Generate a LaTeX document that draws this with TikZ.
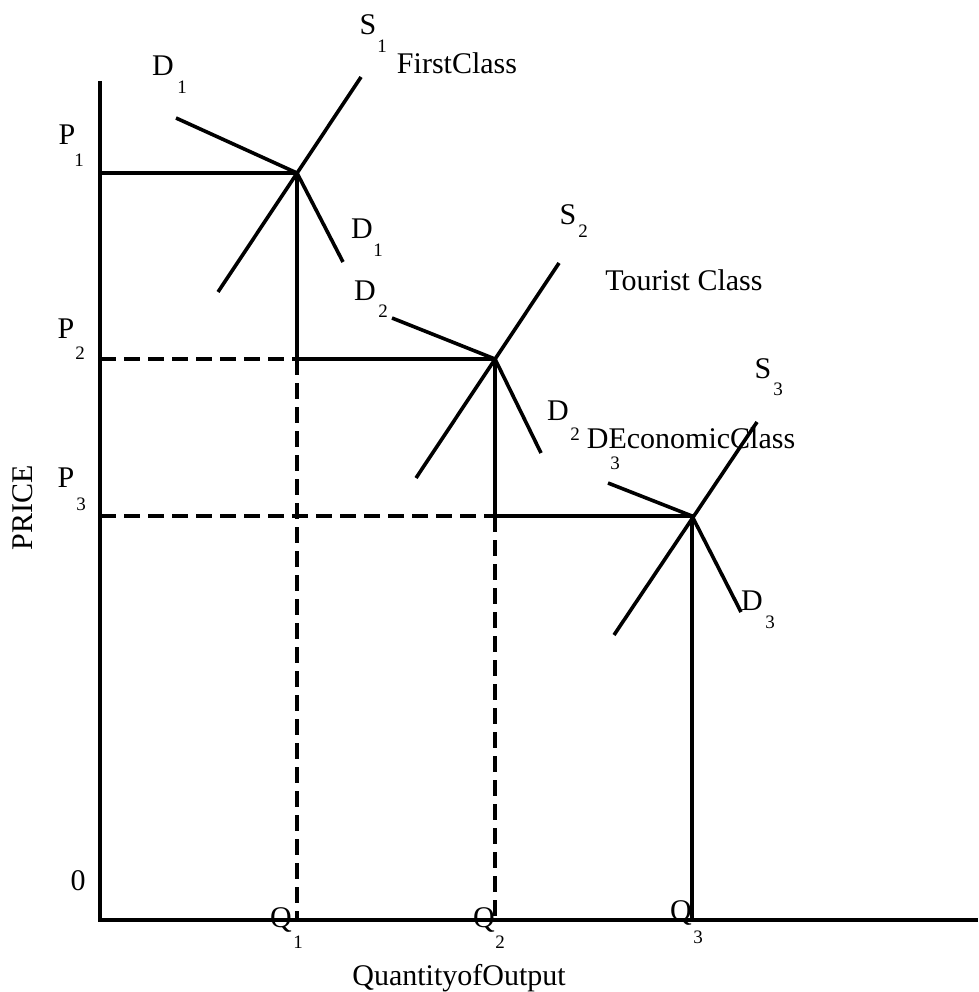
\documentclass[tikz,border=0pt]{standalone}
\usepackage{fontspec}
\setmainfont{Liberation Serif}
\begin{document}
\begin{tikzpicture}[x=1pt,y=-1pt,
  curve/.style={line width=3.6pt},
  axisline/.style={line width=4pt},
  guide/.style={line width=3.6pt, dash pattern=on 16pt off 8pt},
  lbl/.style={anchor=base, inner sep=0pt, font=\fontsize{30}{30}\selectfont},
  sub/.style={anchor=base, inner sep=0pt, font=\fontsize{19}{19}\selectfont}]
\useasboundingbox (0,0) rectangle (978,992);
% key points
\coordinate (O) at (100,920);
\coordinate (Ytop) at (100,81);
\coordinate (Xend) at (978,920);
\coordinate (E1) at (297,173);
\coordinate (E2) at (495,359);
\coordinate (E3) at (692,516);
\coordinate (P1a) at (100,173);
\coordinate (P2a) at (100,359);
\coordinate (P3a) at (100,516);
\coordinate (Q1a) at (297,920);
\coordinate (Q2a) at (495,920);
\coordinate (Q3a) at (692,920);
\coordinate (V1) at (297,359);
\coordinate (V2) at (495,516);
% curve ends
\coordinate (S1lo) at (218,292);
\coordinate (S1hi) at (361,77);
\coordinate (D1hi) at (176,118);
\coordinate (D1lo) at (343,262);
\coordinate (S2lo) at (416,478);
\coordinate (S2hi) at (559,263);
\coordinate (D2hi) at (392,318);
\coordinate (D2lo) at (541,453);
\coordinate (S3lo) at (614,635);
\coordinate (S3hi) at (757,422);
\coordinate (D3hi) at (608,483);
\coordinate (D3lo) at (741,612);
% axes
\draw[axisline] (Ytop) -- (O) -- (Xend);
% guides
\draw[curve] (P1a) -- (E1);
\draw[curve] (E1) -- (V1);
\draw[guide] (V1) -- (Q1a);
\draw[guide] (P2a) -- (V1);
\draw[curve] (V1) -- (E2) -- (V2);
\draw[guide] (V2) -- (Q2a);
\draw[guide] (P3a) -- (V2);
\draw[curve] (V2) -- (E3) -- (Q3a);
% supply and demand
\draw[curve] (S1lo) -- (S1hi);
\draw[curve] (D1hi) -- (E1) -- (D1lo);
\draw[curve] (S2lo) -- (S2hi);
\draw[curve] (D2hi) -- (E2) -- (D2lo);
\draw[curve] (S3lo) -- (S3hi);
\draw[curve] (D3hi) -- (E3) -- (D3lo);
% labels
\node[lbl] (s1) at (368,35) {S};
\node[sub] (s1n) at (382,53) {1};
\node[lbl] (fc) at (457,74) {FirstClass};
\node[lbl] (d1t) at (163,76) {D};
\node[sub] (d1tn) at (182,94) {1};
\node[lbl] (p1) at (67,145) {P};
\node[sub] (p1n) at (79,167) {1};
\node[lbl] (d1r) at (362,238) {D};
\node[sub] (d1rn) at (378,256) {1};
\node[lbl] (s2) at (568,225) {S};
\node[sub] (s2n) at (583,237) {2};
\node[lbl] (tc) at (684,290) {Tourist Class};
\node[lbl] (d2t) at (365,300) {D};
\node[sub] (d2tn) at (383,317) {2};
\node[lbl] (p2) at (66,338) {P};
\node[sub] (p2n) at (80,359) {2};
\node[lbl] (s3) at (763,378) {S};
\node[sub] (s3n) at (778,395) {3};
\node[lbl] (d2r) at (558,420) {D};
\node[sub] (d2rn) at (575,440) {2};
\node[lbl] (ec) at (691,448) {DEconomicClass};
\node[sub] (d3tn) at (615,469) {3};
\node[lbl] (p3) at (66,487) {P};
\node[sub] (p3n) at (81,510) {3};
\node[lbl] (d3r) at (752,610) {D};
\node[sub] (d3rn) at (770,628) {3};
\node[lbl] (zero) at (78,890) {0};
\node[lbl] (q1) at (281,927) {Q};
\node[sub] (q1n) at (298,948) {1};
\node[lbl] (q2) at (484,927) {Q};
\node[sub] (q2n) at (500,948) {2};
\node[lbl] (q3) at (681,920) {Q};
\node[sub] (q3n) at (698,943) {3};
\node[lbl] (qo) at (459,985) {QuantityofOutput};
\node[inner sep=0pt, rotate=90, font=\fontsize{30}{30}\selectfont] (price) at (23,508) {PRICE};
\end{tikzpicture}
\end{document}
